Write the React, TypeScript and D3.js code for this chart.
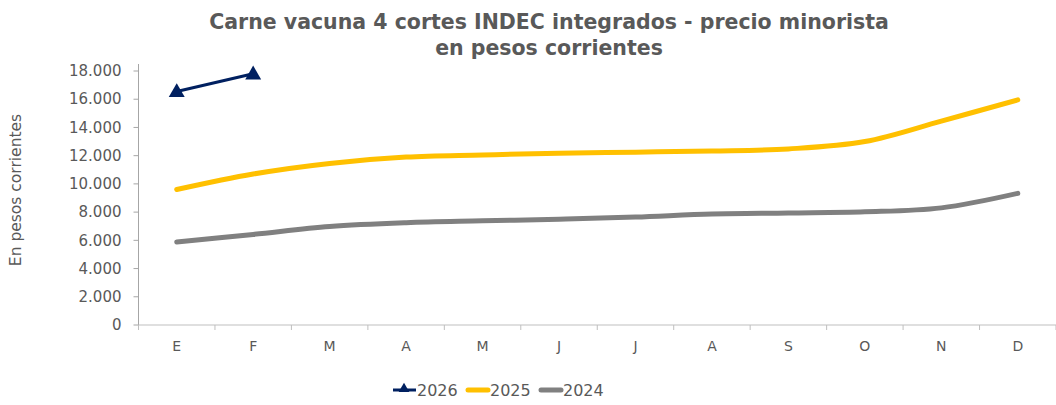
import React from "react";
import * as d3 from "d3";

const months = ["E", "F", "M", "A", "M", "J", "J", "A", "S", "O", "N", "D"];
const s2026 = [16550, 17800];
const s2025 = [9600, 10700, 11450, 11900, 12050, 12180, 12250, 12330, 12480, 13000, 14450, 15950];
const s2024 = [5880, 6420, 6980, 7250, 7380, 7500, 7650, 7870, 7940, 8020, 8300, 9330];
const yTicks = [0, 2000, 4000, 6000, 8000, 10000, 12000, 14000, 16000, 18000];

const W = 1056, H = 405;
const left = 138.5, right = 1056, top = 71, bottom = 325;
const FONT = "'Century Gothic', 'DejaVu Sans', sans-serif";
const TXT = "#595959";

export default function App() {
  const x = d3.scaleBand<number>().domain(d3.range(12)).range([left, right]);
  const cx = (i: number) => (x(i) as number) + x.bandwidth() / 2;
  const y = d3.scaleLinear().domain([0, 18000]).range([bottom, top]);
  const line = d3
    .line<number>()
    .x((_, i) => cx(i))
    .y((d) => y(d))
    .curve(d3.curveCatmullRom.alpha(0));
  const tri = d3.symbol().type(d3.symbolTriangle).size(110)();
  const fmt = (v: number) => d3.format(",")(v).replace(/,/g, ".");
  const tickXs = d3.range(13).map((i) => left + i * x.bandwidth());

  return (
    <svg width={W} height={H} style={{ display: "block", position: "absolute", left: 0, top: 0 }} fontFamily={FONT}>
      <rect width={W} height={H} fill="#fff" />
      <text x={549} y={29} textAnchor="middle" fontSize={20.5} fontWeight="bold" fill={TXT}>
        Carne vacuna 4 cortes INDEC integrados - precio minorista
      </text>
      <text x={549} y={55} textAnchor="middle" fontSize={20.5} fontWeight="bold" fill={TXT}>
        en pesos corrientes
      </text>
      <text transform={`translate(21,${190}) rotate(-90)`} textAnchor="middle" fontSize={15.5} fill={TXT}>
        En pesos corrientes
      </text>
      {/* y axis */}
      <line x1={left} x2={left} y1={64} y2={bottom} stroke="#a6a6a6" strokeWidth={1} />
      {yTicks.map((t) => (
        <g key={t}>
          <line x1={left - 5} x2={left} y1={y(t)} y2={y(t)} stroke="#a6a6a6" />
          <text x={left - 17} y={y(t)} dy="0.35em" textAnchor="end" fontSize={15} fill={TXT}>
            {fmt(t)}
          </text>
        </g>
      ))}
      {/* x axis */}
      <line x1={left} x2={right} y1={bottom} y2={bottom} stroke="#bfbfbf" strokeWidth={1} />
      {tickXs.map((tx, i) => (
        <line key={i} x1={tx} x2={tx} y1={bottom} y2={bottom + 5} stroke="#bfbfbf" />
      ))}
      {months.map((m, i) => (
        <text key={i} x={cx(i)} y={351} textAnchor="middle" fontSize={14} fill={TXT}>
          {m}
        </text>
      ))}
      <path d={line(s2024) || ""} fill="none" stroke="#808080" strokeWidth={5} strokeLinecap="round" />
      <path d={line(s2025) || ""} fill="none" stroke="#FFC000" strokeWidth={5} strokeLinecap="round" />
      <path d={line(s2026) || ""} fill="none" stroke="#002060" strokeWidth={3} />
      {s2026.map((v, i) => (
        <path key={i} d={tri || ""} transform={`translate(${cx(i)},${y(v) + 1})`} fill="#002060" />
      ))}
      {/* legend */}
      <g fontSize={16} fill={TXT}>
        <line x1={393} x2={416} y1={390} y2={390} stroke="#002060" strokeWidth={3} />
        <path d={d3.symbol().type(d3.symbolTriangle).size(50)() || ""} transform="translate(404,389)" fill="#002060" />
        <text x={417} y={390} dy="0.35em">2026</text>
        <line x1={468} x2={488} y1={390} y2={390} stroke="#FFC000" strokeWidth={5} strokeLinecap="round" />
        <text x={490} y={390} dy="0.35em">2025</text>
        <line x1={541} x2={561} y1={390} y2={390} stroke="#808080" strokeWidth={5} strokeLinecap="round" />
        <text x={563} y={390} dy="0.35em">2024</text>
      </g>
    </svg>
  );
}
